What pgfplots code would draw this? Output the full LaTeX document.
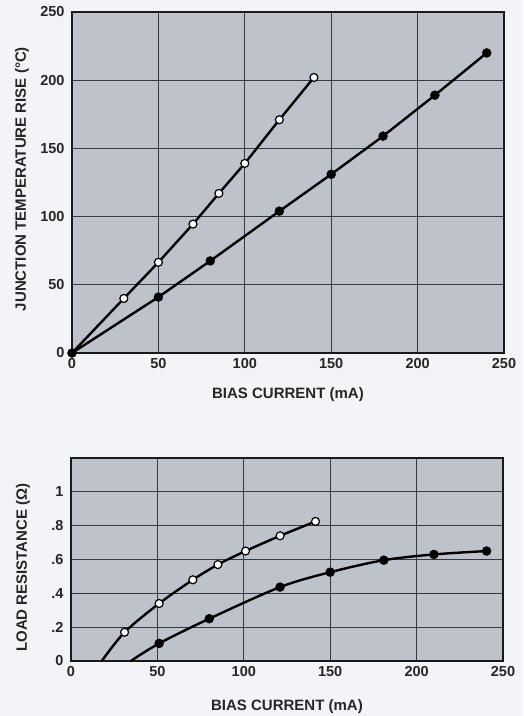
\documentclass[border=0pt]{standalone}
\usepackage{fontspec}
\setmainfont{Liberation Sans}
\usepackage{pgfplots}
\pgfplotsset{compat=1.18}
\definecolor{pagebg}{RGB}{242,244,248}
\definecolor{plotbg}{RGB}{190,194,202}
\definecolor{gridc}{RGB}{55,58,66}
\pgfplotsset{
  common/.style={
    scale only axis, anchor=south west, width=432pt,
    xmin=0, xmax=250, xtick={0,50,100,150,200,250},
    grid=major,
    axis background/.style={fill=plotbg},
    major grid style={gridc, line width=0.9pt},
    axis line style={line width=1.5pt, black!90},
    tick style={draw=none},
    ticklabel style={font=\fontsize{14.5}{16}\selectfont\bfseries, text=black!85},
    xticklabel style={yshift=-2pt},
    yticklabel style={xshift=-4pt},
    label style={font=\fontsize{15}{17}\selectfont\bfseries, text=black!85},
    /pgf/number format/assume math mode=true,
    xlabel={BIAS CURRENT (mA)},
  },
  opn/.style={only marks, mark=*, mark size=4pt, mark options={fill=white, draw=black, line width=1.2pt}},
  fld/.style={only marks, mark=*, mark size=4.5pt, mark options={fill=black, draw=black}},
  ln/.style={black, line width=2.4pt, no marks},
}
\begin{document}
\begin{tikzpicture}[x=1pt,y=1pt]
\fill[pagebg] (0,0) rectangle (523,716);
\useasboundingbox (0,0) rectangle (523,716);
\begin{axis}[common, at={(72pt,363pt)}, height=341pt,
  ymin=0, ymax=250, ytick={0,50,100,150,200,250},
  xlabel style={at={(axis description cs:0.5,-0.123)}, anchor=center},
  ylabel={JUNCTION TEMPERATURE RISE (\textdegree C)},
  ylabel style={at={(axis description cs:-0.116,0.51)}, anchor=center},
]
\addplot[ln] coordinates {(0,0) (30,40) (50,66.5) (70,94.5) (85,117) (100,139) (120,171) (140,202)};
\addplot[ln] coordinates {(0,0) (50,41) (80,67.5) (120,104) (150,131) (180,159) (210,189) (240,220)};
\addplot[opn] coordinates {(30,40) (50,66.5) (70,94.5) (85,117) (100,139) (120,171) (140,202)};
\addplot[fld] coordinates {(0,0) (50,41) (80,67.5) (120,104) (150,131) (180,159) (210,189) (240,220)};
\end{axis}
\begin{axis}[common, at={(71pt,55pt)}, height=203pt,
  ymin=0, ymax=1.2, ytick={0,0.2,0.4,0.6,0.8,1}, yticklabels={0,.2,.4,.6,.8,1},
  xlabel style={at={(axis description cs:0.5,-0.227)}, anchor=center},
  ylabel={LOAD RESISTANCE (Ω)},
  ylabel style={at={(axis description cs:-0.111,0.46)}, anchor=center},
]
\addplot[ln, smooth] coordinates {(17.8,0) (31,0.17) (51,0.34) (70.5,0.48) (85,0.57) (101,0.65) (121,0.74) (141.5,0.825)};
\addplot[ln, smooth] coordinates {(34.6,0) (51,0.104) (80,0.25) (121,0.437) (150,0.525) (181,0.596) (210,0.63) (240.5,0.65)};
\addplot[opn] coordinates {(31,0.17) (51,0.34) (70.5,0.48) (85,0.57) (101,0.65) (121,0.74) (141.5,0.825)};
\addplot[fld] coordinates {(51,0.104) (80,0.25) (121,0.437) (150,0.525) (181,0.596) (210,0.63) (240.5,0.65)};
\end{axis}
\end{tikzpicture}
\end{document}
